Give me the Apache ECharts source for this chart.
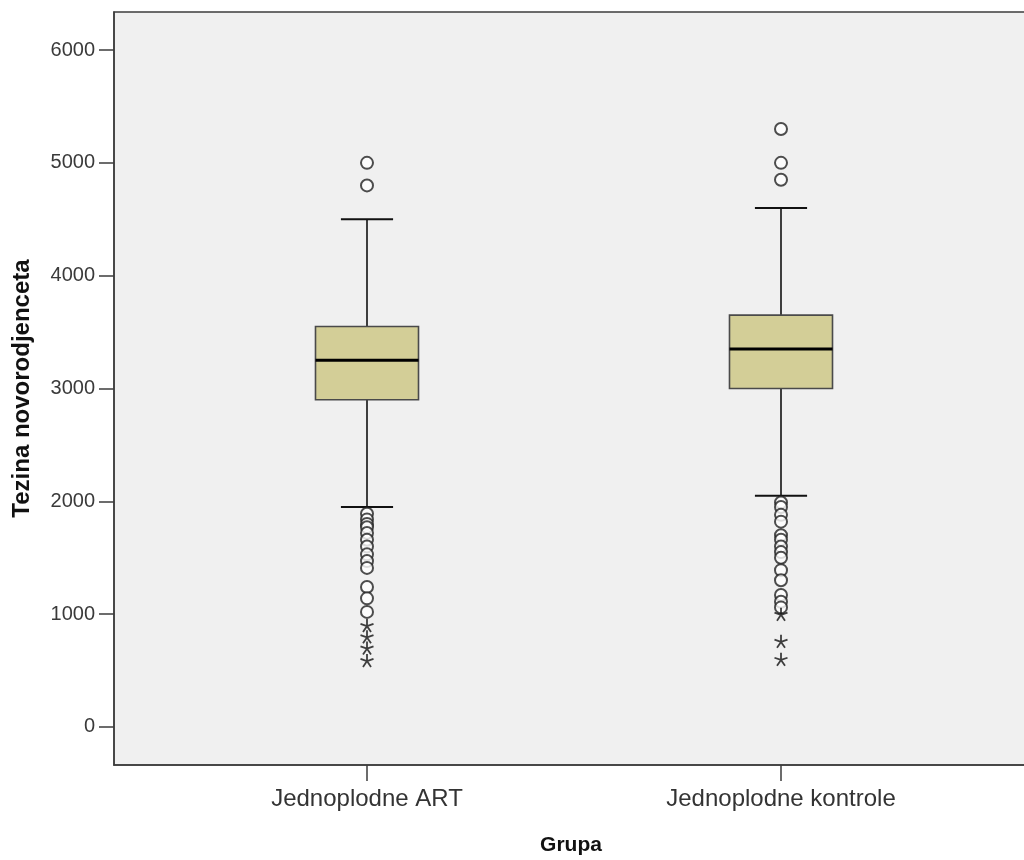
<!DOCTYPE html>
<html>
<head>
<meta charset="utf-8">
<script src="https://cdn.jsdelivr.net/npm/echarts@6/dist/echarts.min.js"></script>
<style>
html,body{margin:0;padding:0;background:#fff;}
#chart{width:1024px;height:860px;}
</style>
</head>
<body>
<div id="chart"></div>
<script>
const categories = ['Jednoplodne ART', 'Jednoplodne kontrole'];
const whiskerLow = [1950, 2050];
const q1 = [2900, 3000];
const median = [3250, 3350];
const q3 = [3550, 3650];
const whiskerHigh = [4500, 4600];
const yTicks = [0, 1000, 2000, 3000, 4000, 5000, 6000];

const artOutliers = [5000, 4800, 1890, 1840, 1800, 1770, 1720, 1660, 1600, 1530, 1470, 1410, 1240, 1140, 1020];
const artExtremes = [900, 800, 700, 590];
const controlOutliers = [5300, 5000, 4850, 1990, 1950, 1880, 1820, 1700, 1660, 1600, 1550, 1500, 1390, 1300, 1170, 1110, 1060];
const controlExtremes = [1000, 760, 600];

const boxData = categories.map((c, i) => [i + 1, whiskerLow[i], q1[i], median[i], q3[i], whiskerHigh[i]]);
const toPts = (idx, arr) => arr.map(v => [idx, v]);
const circlePts = toPts(1, artOutliers).concat(toPts(2, controlOutliers));
const starPts = toPts(1, artExtremes).concat(toPts(2, controlExtremes));

const chart = echarts.init(document.getElementById('chart'));
const FONT = 'Liberation Sans, Arial, sans-serif';

chart.setOption({
  backgroundColor: '#ffffff',
  animation: false,
  grid: {
    left: 114, right: -4, top: 12, bottom: 95,
    outerBoundsMode: 'none',
    containLabel: false,
    show: true, backgroundColor: '#f0f0f0',
    borderColor: '#3c3c3c', borderWidth: 1.5
  },
  xAxis: {
    type: 'value',
    min: 1 - 253 / 414,
    max: 2 + 247 / 414,
    name: 'Grupa',
    nameLocation: 'middle',
    nameGap: 70,
    nameTextStyle: { fontFamily: FONT, fontSize: 21, fontWeight: 'bold', color: '#111' },
    splitLine: { show: false },
    axisLine: { show: true, onZero: false, lineStyle: { color: '#3c3c3c', width: 1.5 } },
    axisTick: { show: true, customValues: [1, 2], length: 16, lineStyle: { color: '#3c3c3c', width: 1.5 } },
    axisLabel: {
      customValues: [1, 2],
      formatter: v => categories[Math.round(v) - 1] || '',
      margin: 22, fontFamily: FONT, fontSize: 24, color: '#333'
    }
  },
  yAxis: {
    type: 'value',
    min: -337,
    max: 6337,
    name: 'Tezina novorodjenceta',
    nameLocation: 'middle',
    nameGap: 80,
    nameTextStyle: { fontFamily: FONT, fontSize: 24, fontWeight: 'bold', color: '#111' },
    splitLine: { show: false },
    axisLine: { show: true, onZero: false, lineStyle: { color: '#3c3c3c', width: 1.5 } },
    axisTick: { show: true, customValues: yTicks, length: 15, lineStyle: { color: '#3c3c3c', width: 1.5 } },
    axisLabel: {
      customValues: yTicks,
      formatter: v => String(v),
      margin: 19, fontFamily: FONT, fontSize: 20, color: '#3a3a3a'
    }
  },
  series: [
    {
      type: 'custom',
      data: boxData,
      renderItem: function (params, api) {
        const x = api.value(0);
        const lo = api.coord([x, api.value(1)]);
        const b1 = api.coord([x, api.value(2)]);
        const md = api.coord([x, api.value(3)]);
        const b3 = api.coord([x, api.value(4)]);
        const hi = api.coord([x, api.value(5)]);
        const half = api.size([0.1244, 0])[0];
        const cap = api.size([0.063, 0])[0];
        const cx = lo[0];
        const ws = { stroke: '#111', lineWidth: 1.6 };
        return {
          type: 'group',
          children: [
            { type: 'line', shape: { x1: cx, y1: lo[1], x2: cx, y2: b1[1] }, style: ws },
            { type: 'line', shape: { x1: cx, y1: b3[1], x2: cx, y2: hi[1] }, style: ws },
            { type: 'line', shape: { x1: cx - cap, y1: lo[1], x2: cx + cap, y2: lo[1] }, style: { stroke: '#111', lineWidth: 2 } },
            { type: 'line', shape: { x1: cx - cap, y1: hi[1], x2: cx + cap, y2: hi[1] }, style: { stroke: '#111', lineWidth: 2 } },
            { type: 'rect', shape: { x: cx - half, y: b3[1], width: half * 2, height: b1[1] - b3[1] },
              style: { fill: '#d3ce97', stroke: '#4a4a4a', lineWidth: 1.6 } },
            { type: 'line', shape: { x1: cx - half, y1: md[1], x2: cx + half, y2: md[1] }, style: { stroke: '#000', lineWidth: 3 } }
          ]
        };
      },
      z: 2
    },
    {
      type: 'scatter',
      data: circlePts,
      symbol: 'emptyCircle',
      symbolSize: 12,
      itemStyle: { color: '#222', borderColor: '#222', borderWidth: 1.5 },
      z: 3
    },
    {
      type: 'scatter',
      data: starPts,
      symbol: 'path://M0,0L0,-5M0,0L4.76,-1.55M0,0L2.94,4.05M0,0L-2.94,4.05M0,0L-4.76,-1.55',
      symbolSize: 13,
      itemStyle: { color: 'transparent', borderColor: '#111', borderWidth: 1.8 },
      z: 3
    }
  ]
});
</script>
</body>
</html>
